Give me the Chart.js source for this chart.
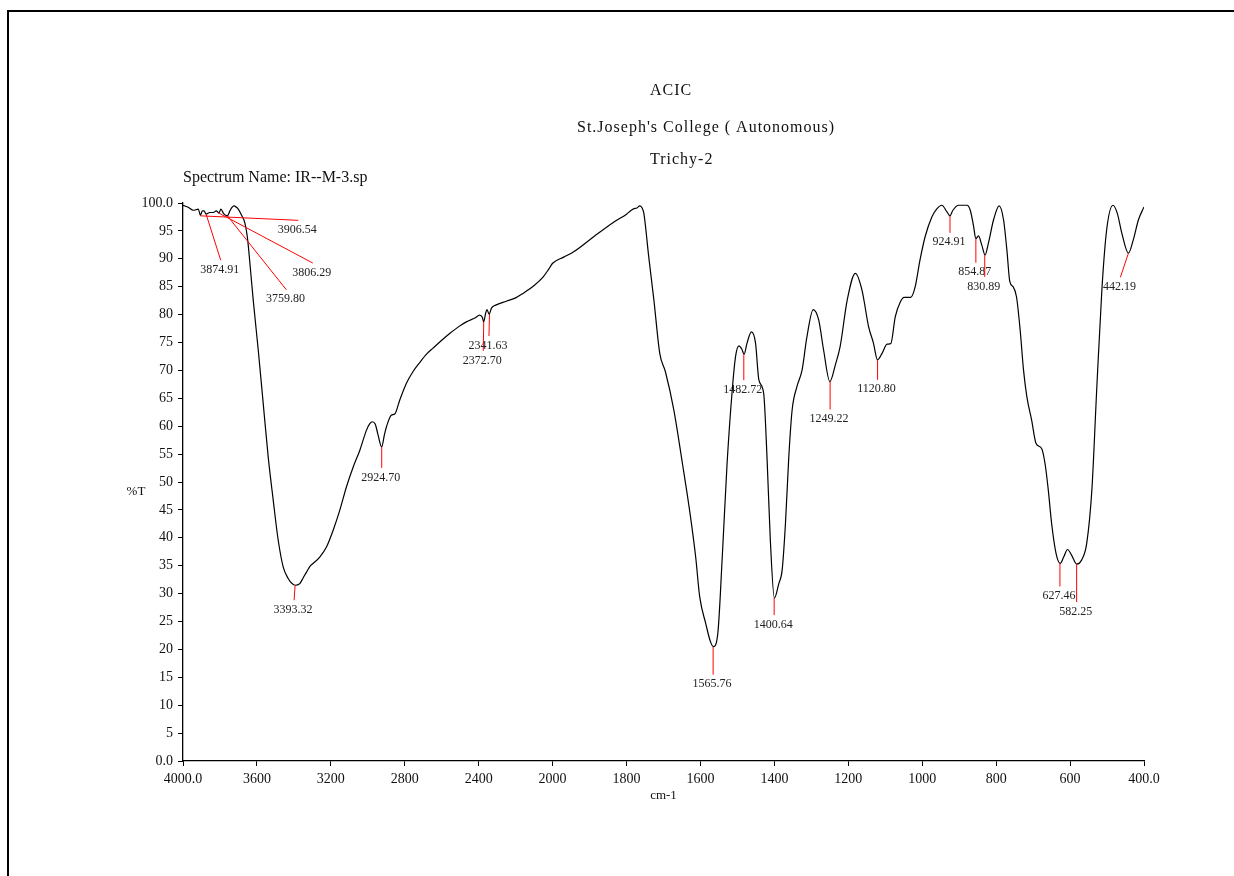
<!DOCTYPE html>
<html>
<head>
<meta charset="utf-8">
<title>IR spectrum</title>
<script src="https://cdn.jsdelivr.net/npm/chart.js@4.4.1/dist/chart.umd.min.js"></script>
<style>
  html, body { margin: 0; padding: 0; background: #fff; }
  #wrap { position: relative; width: 1234px; height: 876px; overflow: hidden; }
  #frame { position: absolute; left: 7px; top: 10px; width: 1400px; height: 1000px;
           border-top: 2px solid #000; border-left: 2px solid #000; }
  #chart { position: absolute; left: 0; top: 0; }
</style>
</head>
<body>
<div id="wrap">
  <div id="frame"></div>
  <canvas id="chart" width="1234" height="876"></canvas>
</div>
<script>
// Spectrum: wavenumber (cm-1) and %T
const wavenumbers = [
  4000, 3970, 3944, 3917, 3906, 3895, 3886, 3875, 3855, 3836, 3820, 3806, 3795, 3780, 3760,
  3746, 3735, 3724, 3710, 3701, 3683, 3665, 3650, 3638, 3620, 3593, 3566, 3539, 3512, 3485,
  3458, 3431, 3410, 3393, 3368, 3350, 3331, 3310, 3296, 3259, 3223, 3187, 3151, 3115, 3079,
  3043, 3007, 2990, 2975, 2960, 2945, 2925, 2910, 2899, 2872, 2854, 2827, 2791, 2755, 2719,
  2680, 2647, 2600, 2557, 2510, 2467, 2420, 2395, 2380, 2373, 2362, 2355, 2344, 2330, 2308,
  2250, 2200, 2160, 2100, 2052, 2020, 2000, 1970, 1942, 1888, 1834, 1800, 1789, 1780, 1772,
  1764, 1757, 1753, 1740, 1726, 1710, 1695, 1672, 1649, 1627, 1613, 1602, 1586, 1573, 1565,
  1553, 1541, 1528, 1514, 1505, 1496, 1488, 1482, 1474, 1462, 1451, 1442, 1429, 1420, 1411,
  1400, 1388, 1379, 1370, 1361, 1352, 1339, 1325, 1312, 1295, 1280, 1267, 1250, 1235, 1222,
  1203, 1181, 1163, 1145, 1132, 1121, 1109, 1095, 1085, 1073, 1059, 1049, 1031, 1019, 1006,
  992, 974, 960, 947, 933, 925, 917, 902, 879, 870, 861, 855, 848, 839, 830,
  821, 807, 792, 780, 771, 763, 754, 745, 735, 726, 717, 704, 692, 677, 668,
  659, 650, 638, 627, 617, 607, 596, 582, 569, 555, 541, 528, 514, 501, 484,
  472, 460, 442, 429, 415, 400
];
const transmittance = [
  99.6, 99.2, 98.7, 98.9, 97.8, 98.6, 98.6, 98.0, 98.3, 98.3, 98.6, 98.2, 98.9, 98.1, 97.7,
  98.6, 99.2, 99.5, 99.2, 98.9, 97.8, 96.4, 93.4, 89.2, 82.6, 73.7, 64.1, 54.5, 46.8, 39.6,
  34.8, 32.7, 31.8, 31.5, 31.8, 32.8, 33.9, 35.0, 35.4, 36.6, 38.4, 41.4, 45.0, 49.2, 52.7,
  55.7, 59.3, 60.4, 60.8, 60.4, 58.5, 56.3, 58.5, 59.9, 62.0, 62.2, 64.7, 67.7, 69.8, 71.4,
  73.0, 74.0, 75.4, 76.6, 77.8, 78.7, 79.4, 79.9, 79.5, 78.7, 80.3, 80.9, 80.1, 81.2, 81.7,
  82.4, 83.0, 83.8, 85.2, 86.7, 88.2, 89.2, 90.3, 91.3, 94.0, 96.6, 98.0, 98.6, 99.0, 99.1,
  99.5, 99.0, 98.1, 90.4, 82.6, 73.0, 69.8, 62.9, 53.4, 43.8, 36.6, 29.4, 24.7, 21.4, 20.5,
  22.9, 36.6, 53.3, 66.5, 72.5, 74.4, 73.8, 72.9, 74.9, 76.9, 74.9, 68.3, 65.9, 54.5, 39.6,
  29.2, 31.8, 34.2, 42.6, 54.5, 62.9, 67.1, 70.1, 76.0, 80.9, 79.0, 73.7, 68.0, 71.0, 74.3,
  82.6, 87.4, 84.4, 77.8, 74.9, 71.9, 73.0, 74.7, 74.8, 79.6, 82.3, 83.1, 83.1, 85.0, 89.8,
  94.0, 97.5, 99.0, 99.6, 98.4, 97.7, 98.7, 99.6, 99.6, 98.7, 95.8, 93.6, 94.1, 92.5, 90.7,
  92.8, 97.0, 99.5, 97.0, 91.6, 85.9, 85.0, 83.2, 77.2, 70.1, 65.3, 61.1, 56.9, 56.0, 53.4,
  48.6, 42.6, 37.2, 35.4, 36.6, 37.9, 36.9, 35.3, 36.0, 39.0, 48.6, 66.5, 84.4, 95.2, 99.6,
  98.1, 94.6, 91.0, 93.4, 97.0, 99.3
];

// Picked peaks
const peakWn = [3906.54, 3874.91, 3806.29, 3759.80, 3393.32, 2924.70, 2372.70, 2341.63,
  1565.76, 1482.72, 1400.64, 1249.22, 1120.80, 924.91, 854.87, 830.89, 627.46, 582.25, 442.19];
const peakT = [97.7, 98.0, 98.2, 97.7, 31.5, 56.3, 78.7, 80.1,
  20.5, 72.9, 29.2, 68.0, 71.9, 97.7, 93.6, 90.7, 35.4, 35.3, 91.0];
// leader line end, relative to the peak (px)
const leaderOffsets = [[98, 4.5], [14.6, 46], [94, 50], [59, 74], [-1, 15], [0, 21], [-0.5, 29], [-0.5, 22],
  [0, 28], [0, 26], [0, 17], [0, 28], [0, 20], [0, 17], [0, 24], [0, 22], [0, 23], [0, 38], [-8, 24]];

const headerLines = [
  { text: 'ACIC', x: 650, y: 95, spacing: 1 },
  { text: "St.Joseph's College ( Autonomous)", x: 577, y: 132, spacing: 1 },
  { text: 'Trichy-2', x: 650, y: 164, spacing: 1 },
  { text: 'Spectrum Name: IR--M-3.sp', x: 183, y: 182, spacing: 0 }
];

// x axis changes scale at 2000 cm-1 (twice as wide below)
const BREAK = 2000;
function toAxis(wn) {
  return wn >= BREAK ? 4000 - wn : BREAK + 2 * (BREAK - wn);
}
function fromAxis(u) {
  return u <= BREAK ? 4000 - u : BREAK - (u - BREAK) / 2;
}

const SERIF = "'Liberation Serif', 'Times New Roman', serif";
Chart.defaults.font.family = SERIF;
Chart.defaults.color = '#111';

const points = wavenumbers.map((wn, i) => ({ x: toAxis(wn), y: transmittance[i] }));

const decorations = {
  id: 'decorations',
  afterDraw(chart) {
    const { ctx, scales: { x, y }, chartArea } = chart;
    ctx.save();

    // peak leaders + labels
    ctx.font = '12px ' + SERIF;
    ctx.textAlign = 'center';
    ctx.textBaseline = 'middle';
    peakWn.forEach((wn, i) => {
      const px = x.getPixelForValue(toAxis(wn));
      const py = y.getPixelForValue(peakT[i]);
      const ex = px + leaderOffsets[i][0];
      const ey = py + leaderOffsets[i][1];
      ctx.strokeStyle = '#ff0000';
      ctx.lineWidth = 1;
      ctx.beginPath();
      ctx.moveTo(px, py);
      ctx.lineTo(ex, ey);
      ctx.stroke();
      ctx.fillStyle = '#222';
      ctx.fillText(wn.toFixed(2), ex - 1, ey + 9.5);
    });

    // header text
    ctx.fillStyle = '#111';
    ctx.textAlign = 'left';
    ctx.textBaseline = 'alphabetic';
    ctx.font = '16px ' + SERIF;
    headerLines.forEach(h => {
      ctx.letterSpacing = h.spacing + 'px';
      ctx.fillText(h.text, h.x, h.y);
    });
    ctx.letterSpacing = '0px';

    // axis titles
    ctx.font = '13px ' + SERIF;
    ctx.textAlign = 'center';
    ctx.fillText('%T', 136, 495);
    ctx.fillText('cm-1', (chartArea.left + chartArea.right) / 2, 799);
    ctx.restore();
  }
};

new Chart(document.getElementById('chart'), {
  type: 'line',
  data: {
    datasets: [{
      data: points,
      borderColor: '#000',
      borderWidth: 1.2,
      pointRadius: 0,
      cubicInterpolationMode: 'monotone',
      fill: false
    }]
  },
  options: {
    responsive: false,
    animation: false,
    layout: { padding: { left: 0, top: 203, right: 90, bottom: 0 } },
    plugins: { legend: { display: false }, tooltip: { enabled: false } },
    scales: {
      x: {
        type: 'linear',
        min: 0,
        max: 5200,
        afterFit: s => { s.height = 115; },
        grid: { drawOnChartArea: false, drawTicks: true, tickLength: 5, color: '#000' },
        border: { display: true, color: '#000', width: 1.3 },
        ticks: {
          stepSize: 400,
          padding: 5,
          maxRotation: 0,
          autoSkip: false,
          font: { size: 14 },
          callback: (v, i, arr) => {
            const wn = fromAxis(v);
            return (i === 0 || i === arr.length - 1) ? wn.toFixed(1) : String(Math.round(wn));
          }
        }
      },
      y: {
        min: 0,
        max: 100,
        afterFit: s => { s.width = 183; },
        grid: { drawOnChartArea: false, drawTicks: true, tickLength: 5, color: '#000' },
        border: { display: true, color: '#000', width: 1.3 },
        ticks: {
          stepSize: 5,
          padding: 5,
          autoSkip: false,
          font: { size: 14 },
          callback: v => (v === 0 || v === 100) ? v.toFixed(1) : String(v)
        }
      }
    }
  },
  plugins: [decorations]
});
</script>
</body>
</html>
